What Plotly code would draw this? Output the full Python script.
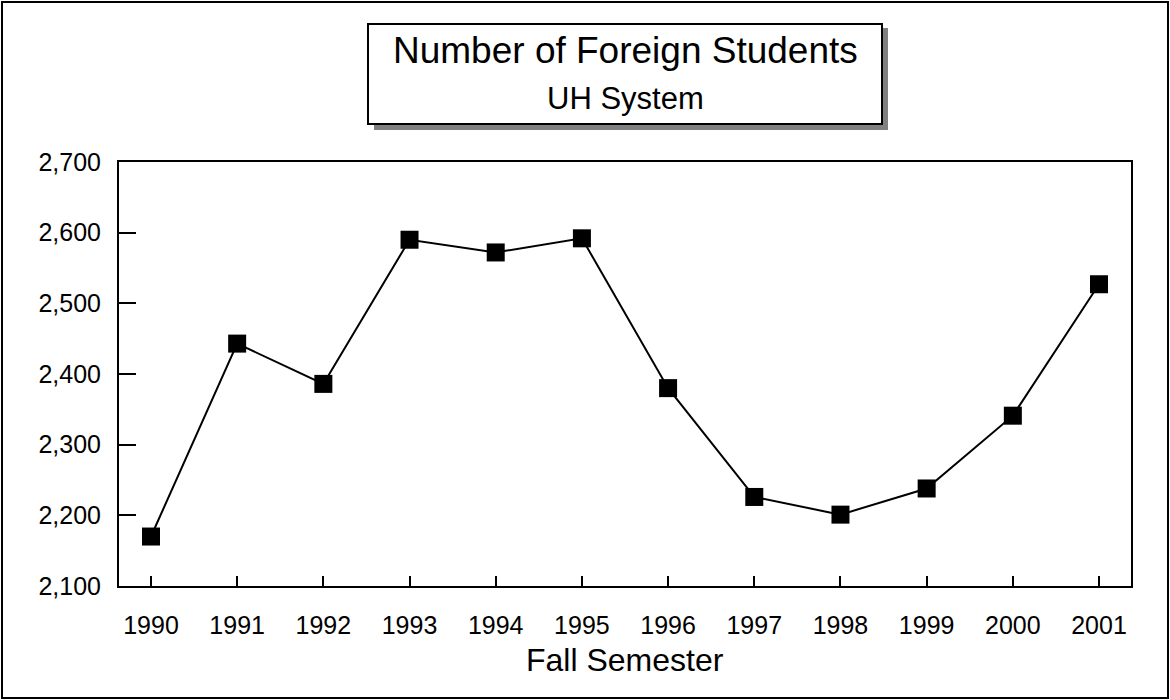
import plotly.graph_objects as go

years = ["1990", "1991", "1992", "1993", "1994", "1995", "1996", "1997", "1998", "1999", "2000", "2001"]
students = [2170, 2443, 2386, 2590, 2572, 2592, 2380, 2226, 2201, 2238, 2341, 2527]
y_ticks = [2100, 2200, 2300, 2400, 2500, 2600, 2700]

W, H = 1170, 700
L, R, T, B = 119, 1131, 162, 586

def px(x):
    return (x - L) / (R - L)

def py(y):
    return (B - y) / (B - T)

FONT = "Liberation Sans, Arial, sans-serif"

fig = go.Figure()
fig.add_trace(go.Scatter(
    x=years, y=students, mode="lines+markers",
    line=dict(color="black", width=2),
    marker=dict(symbol="square", size=18, color="black"),
    showlegend=False, hoverinfo="x+y",
))

shapes = [
    # outer frame
    dict(type="rect", xref="paper", yref="paper", x0=px(2), x1=px(1168), y0=py(2), y1=py(698),
         line=dict(color="black", width=2), fillcolor="rgba(0,0,0,0)", layer="below"),
    # title shadow
    dict(type="rect", xref="paper", yref="paper", x0=px(374), x1=px(888), y0=py(28), y1=py(130),
         line=dict(width=0), fillcolor="#808080", layer="above"),
    # title box
    dict(type="rect", xref="paper", yref="paper", x0=px(368), x1=px(882), y0=py(24), y1=py(124),
         line=dict(color="black", width=2), fillcolor="white", layer="above"),
]

annotations = [
    dict(text="Number of Foreign Students", xref="paper", yref="paper", x=px(625), y=py(51),
         xanchor="center", yanchor="middle", showarrow=False,
         font=dict(family=FONT, size=37, color="black")),
    dict(text="UH System", xref="paper", yref="paper", x=px(625), y=py(99),
         xanchor="center", yanchor="middle", showarrow=False,
         font=dict(family=FONT, size=31, color="black")),
    dict(text="Fall Semester", xref="paper", yref="paper", x=px(625), y=py(660),
         xanchor="center", yanchor="middle", showarrow=False,
         font=dict(family=FONT, size=32, color="black")),
]

pad = 0.371
fig.update_layout(
    width=W, height=H, autosize=False,
    margin=dict(l=L, r=W - R, t=T, b=H - B, pad=0),
    paper_bgcolor="white", plot_bgcolor="white",
    font=dict(family=FONT, color="black", size=25),
    shapes=shapes, annotations=annotations,
    xaxis=dict(
        type="category", range=[-pad, len(years) - 1 + pad],
        showgrid=False, zeroline=False,
        showline=True, linecolor="black", linewidth=2, mirror=True,
        ticks="inside", ticklen=10, tickwidth=2, tickcolor="black",
        tickfont=dict(size=25), ticklabelstandoff=16,
    ),
    yaxis=dict(
        range=[2100, 2700], tickvals=y_ticks, tickformat=",",
        showgrid=False, zeroline=False,
        showline=True, linecolor="black", linewidth=2, mirror=True,
        ticks="inside", ticklen=17, tickwidth=2, tickcolor="black",
        tickfont=dict(size=25), ticklabelstandoff=11,
    ),
)

fig.write_html(
    "out.html",
    config={"displayModeBar": False},
    post_script="document.body.style.margin='0';document.body.style.padding='0';",
)
